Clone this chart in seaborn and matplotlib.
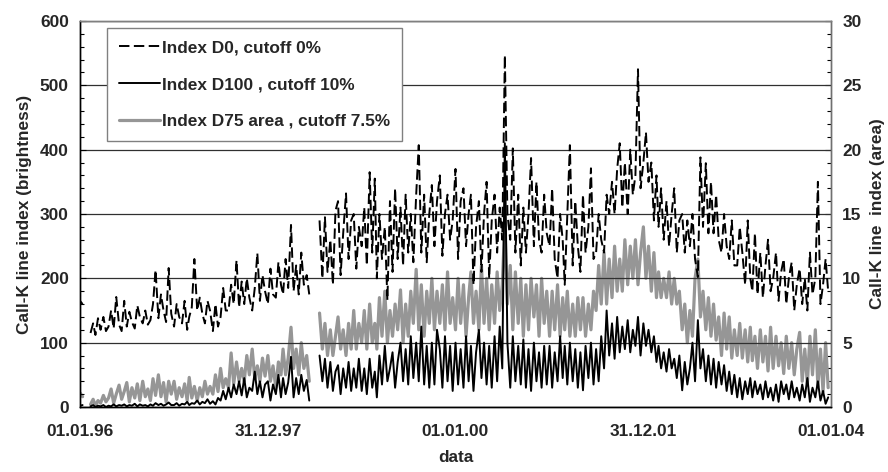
import numpy as np
import pandas as pd
import matplotlib
matplotlib.use("Agg")
import matplotlib.pyplot as plt
import matplotlib.dates as mdates
from matplotlib.ticker import FixedLocator, MultipleLocator
from matplotlib.lines import Line2D
import seaborn as sns

nan = np.nan

# samples on the 1st, 11th and 21st of each month, 1996-01 .. 2003-12
years = list(range(1996, 2004))
dates = pd.to_datetime([f"{y}-{m:02d}-{d:02d}" for y in years for m in range(1, 13) for d in (1, 11, 21)])

# Index D0, cutoff 0%  (brightness, left axis) - two rows per year
d0 = [
    165, 160, nan, nan, 115, 130, 112, 138, 120, 140, 118, 125, 150, 122, 171, 128, 118, 165,
    125, 148, 132, 122, 158, 140, 130, 150, 128, 135, 160, 213, 138, 175, 150, 132, 216, 145,
    125, 160, 140, 130, 165, 120, 140, 155, 230, 150, 170, 145, 130, 165, 150, 118, 160, 125,
    140, 185, 150, 150, 190, 160, 228, 155, 195, 160, 200, 170, 150, 185, 239, 165, 205, 180,
    160, 215, 175, 170, 225, 190, 175, 230, 185, 283, 180, 220, 175, 240, 190, 205, 175, nan,
    nan, nan, 290, 200, 295, 210, 260, 190, 305, 320, 205, 270, 332, 230, 290, 300, 215, 280,
    250, 310, 220, 365, 240, 355, 200, 300, 230, 280, 166, 320, 210, 340, 230, 310, 220, 330,
    240, 300, 225, 330, 407, 240, 330, 225, 300, 345, 250, 320, 360, 235, 300, 330, 260, 290,
    370, 230, 320, 340, 250, 300, 330, 190, 280, 320, 210, 300, 350, 200, 290, 330, 240, 310,
    260, 547, 300, 260, 402, 240, 330, 220, 310, 240, 300, 387, 250, 350, 260, 240, 330, 270,
    250, 340, 230, 200, 300, 260, 190, 300, 407, 220, 320, 250, 210, 330, 240, 280, 371, 230,
    240, 300, 260, 240, 330, 300, 350, 300, 370, 410, 310, 380, 300, 400, 330, 360, 525, 340,
    380, 427, 350, 380, 290, 360, 280, 340, 260, 320, 250, 300, 340, 240, 290, 300, 240, 290,
    250, 300, 230, 202, 388, 280, 379, 270, 350, 270, 330, 260, 240, 300, 250, 230, 290, 220,
    220, 280, 240, 190, 290, 200, 180, 270, 175, 240, 170, 220, 260, 180, 200, 240, 165, 210,
    230, 160, 200, 225, 150, 190, 215, 160, 200, 150, 240, 175, 200, 350, 160, 190, 230, 180,
]

# Index D100, cutoff 10%  (brightness, left axis)
d100 = [
    2, 3, nan, nan, 1, 3, 0, 2, 1, 3, 0, 2, 1, 4, 1, 3, 2, 4,
    1, 3, 2, 5, 1, 4, 2, 3, 1, 4, 2, 6, 3, 5, 2, 4, 7, 3,
    3, 6, 2, 5, 4, 8, 3, 6, 5, 10, 4, 8, 6, 12, 5, 9, 4, 14,
    10, 25, 12, 30, 15, 35, 20, 40, 18, 45, 15, 30, 25, 55, 20, 40, 15, 35,
    40, 10, 35, 20, 50, 15, 45, 20, 38, 78, 15, 45, 20, 50, 25, 42, 10, nan,
    nan, nan, 80, 40, 75, 30, 70, 25, 55, 65, 20, 60, 30, 70, 25, 60, 30, 75,
    25, 60, 20, 75, 30, 55, 15, 80, 35, 95, 40, 60, 85, 30, 70, 100, 40, 90,
    35, 110, 45, 100, 40, 125, 35, 95, 30, 100, 35, 120, 90, 30, 110, 40, 95, 25,
    100, 35, 90, 30, 110, 40, 95, 25, 85, 120, 45, 100, 35, 95, 30, 110, 40, 125,
    60, 410, 100, 30, 110, 40, 95, 35, 105, 30, 90, 25, 100, 40, 85, 30, 95, 35,
    95, 30, 85, 40, 110, 45, 95, 35, 100, 40, 90, 30, 85, 26, 95, 45, 100, 35,
    90, 40, 110, 60, 150, 80, 130, 75, 140, 85, 125, 90, 135, 85, 120, 95, 140, 80,
    130, 95, 120, 85, 110, 70, 95, 60, 85, 55, 90, 60, 75, 45, 80, 26, 70, 35,
    60, 100, 40, 135, 60, 90, 40, 80, 35, 75, 30, 70, 35, 65, 25, 55, 20, 50,
    15, 45, 12, 40, 20, 45, 15, 40, 20, 35, 12, 40, 15, 30, 10, 35, 8, 40,
    20, 35, 12, 40, 15, 30, 10, 35, 15, 45, 8, 30, 15, 40, 10, 25, 5, 15,
]

# Index D75 area, cutoff 7.5%  (area, right axis)
d75 = [
    1.1, 0.8, nan, nan, 0.2, 0.6, 0.1, 0.5, 0.3, 0.9, 0.4, 0.7, 1.4, 0.3, 1.0, 1.7, 0.6, 1.2,
    1.9, 0.4, 1.5, 0.7, 1.8, 0.5, 2.0, 0.8, 1.4, 0.5, 2.2, 0.9, 2.5, 0.8, 1.9, 0.4, 2.0, 1.0,
    2.0, 0.6, 1.5, 0.8, 1.8, 0.5, 2.3, 0.7, 1.6, 0.5, 1.5, 0.8, 2.0, 1.0, 1.6, 1.0, 2.5, 1.2,
    3.0, 1.5, 2.2, 1.5, 4.2, 1.8, 3.5, 2.0, 3.0, 2.0, 4.0, 2.5, 4.5, 2.2, 3.2, 2.0, 3.8, 2.4,
    4.0, 2.0, 3.2, 1.5, 3.5, 2.5, 4.5, 2.5, 3.8, 6.2, 3.0, 4.5, 2.5, 5.0, 3.0, 4.0, 2.0, nan,
    nan, nan, 7.3, 4.5, 6.5, 4.0, 6.0, 4.0, 5.5, 7.0, 4.5, 6.0, 4.0, 6.5, 4.5, 7.5, 4.5, 6.5,
    5.0, 7.5, 4.5, 8.0, 5.0, 6.5, 4.5, 8.5, 5.5, 9.0, 5.0, 7.5, 5.5, 8.0, 6.0, 9.1, 5.0, 8.0,
    5.5, 9.0, 6.5, 10.7, 6.0, 9.5, 5.5, 9.0, 6.5, 10.0, 6.0, 9.0, 6.5, 9.5, 6.0, 10.5, 6.5, 8.5,
    6.0, 10.0, 6.5, 9.5, 5.5, 8.5, 10.5, 6.5, 9.0, 6.0, 11.0, 6.5, 10.0, 6.0, 9.5, 6.5, 10.5, 7.5,
    9.5, 14.3, 8.0, 11.0, 6.0, 10.5, 6.5, 10.0, 5.5, 9.5, 6.0, 10.0, 7.0, 9.5, 5.5, 10.0, 6.5, 9.0,
    5.5, 9.0, 6.0, 9.5, 5.5, 8.5, 6.0, 9.0, 5.5, 8.0, 5.5, 8.5, 6.0, 8.5, 5.5, 8.0, 6.0, 9.0,
    7.5, 11.0, 8.0, 12.0, 8.0, 11.5, 8.5, 12.5, 9.0, 11.5, 9.0, 13.0, 9.5, 12.5, 10.0, 13.0, 9.5, 12.0,
    14.0, 10.0, 12.5, 9.0, 12.0, 8.5, 10.5, 8.5, 10.0, 8.5, 10.5, 8.0, 10.0, 8.0, 9.0, 6.0, 8.0, 5.0,
    7.5, 5.5, 10.0, 11.5, 7.0, 9.0, 6.0, 8.5, 5.5, 8.0, 5.2, 7.0, 4.0, 7.3, 4.5, 7.0, 3.8, 6.0,
    4.0, 6.5, 3.8, 6.0, 3.5, 6.2, 3.6, 5.5, 3.0, 6.0, 3.5, 5.5, 2.8, 6.2, 3.0, 5.5, 3.2, 5.0,
    2.6, 5.5, 3.0, 5.0, 2.5, 4.5, 5.8, 2.0, 4.5, 1.8, 5.5, 2.5, 6.0, 1.6, 4.5, 1.2, 5.0, 1.5,
]

labels = ["Index D0, cutoff 0%", "Index D100 , cutoff 10%", "Index D75 area , cutoff 7.5%"]
x_start, x_end = "1996-01-01", "2004-01-01"

sns.set_style("white")
plt.rcParams["font.family"] = ["Liberation Sans", "DejaVu Sans"]
plt.rcParams["font.weight"] = "bold"
plt.rcParams["lines.scale_dashes"] = False

FS = 12.4


def frame(vals):
    s = pd.Series(vals, index=dates, dtype=float)
    df = pd.DataFrame({"date": dates, "v": s.values, "seg": s.isna().cumsum().values})
    return df.dropna()


fig = plt.figure(figsize=(8.88, 4.72), dpi=100)
ax = fig.add_axes([80 / 888, 65 / 472, 751 / 888, 386 / 472])
ax2 = ax.twinx()
ax.set_zorder(ax2.get_zorder() + 1)
ax.patch.set_visible(False)

gray = "#969696"
sns.lineplot(data=frame(d75), x="date", y="v", units="seg", estimator=None,
             color=gray, lw=2.3, ax=ax2, legend=False)
sns.lineplot(data=frame(d100), x="date", y="v", units="seg", estimator=None,
             color="black", lw=1.4, ax=ax, legend=False)
n100 = len(ax.get_lines())
sns.lineplot(data=frame(d0), x="date", y="v", units="seg", estimator=None,
             color="black", lw=1.4, ax=ax, legend=False)
for ln in ax.get_lines()[n100:]:
    ln.set_dashes((7.5, 3.2))

x0 = mdates.date2num(pd.Timestamp(x_start))
x1 = mdates.date2num(pd.Timestamp(x_end))
ax.set_xlim(x0, x1)
ax.set_ylim(0, 600)
ax2.set_ylim(0, 30)

ax.xaxis.set_major_locator(FixedLocator(np.linspace(x0, x1, 5)))
ax.xaxis.set_minor_locator(FixedLocator(np.linspace(x0, x1, 49)))
ax.xaxis.set_major_formatter(mdates.DateFormatter("%d.%m.%y"))
ax.yaxis.set_major_locator(MultipleLocator(100))
ax.yaxis.set_minor_locator(MultipleLocator(20))
ax2.yaxis.set_major_locator(MultipleLocator(5))
ax2.yaxis.set_minor_locator(MultipleLocator(1))

ax.grid(axis="y", which="major", color="#303030", lw=0.9)

for a in (ax, ax2):
    a.tick_params(which="both", direction="in", labelsize=FS, color="black")
    a.tick_params(which="major", length=4, width=0.8)
    a.tick_params(which="minor", length=3, width=0.8)
ax.tick_params(axis="x", pad=12)
ax.tick_params(axis="y", pad=8, right=False)
ax2.tick_params(axis="y", pad=8)
ax.tick_params(axis="x", which="both", top=False)

for a in (ax, ax2):
    a.spines["top"].set_color("#808080")
    a.spines["left"].set_color("black")
    a.spines["bottom"].set_color("black")
    a.spines["right"].set_color("#707070")
    for sp in a.spines.values():
        sp.set_visible(True)
        sp.set_linewidth(1.0)

ax.set_xlabel("data", fontsize=FS, fontweight="bold", labelpad=8)
ax.set_ylabel("Call-K line index (brightness)", fontsize=FS, fontweight="bold", labelpad=6)
ax2.set_ylabel("Call-K line  index (area)", fontsize=FS, fontweight="bold", labelpad=6)
for lab in ax.get_xticklabels() + ax.get_yticklabels() + ax2.get_yticklabels():
    lab.set_fontweight("bold")

handles = [
    Line2D([], [], color="black", lw=1.4, dashes=(7.5, 3.2)),
    Line2D([], [], color="black", lw=1.4),
    Line2D([], [], color=gray, lw=2.3),
]
leg = ax.legend(handles, labels, loc="upper left", bbox_to_anchor=(27 / 751, 379 / 386),
                borderaxespad=0, fontsize=FS, frameon=True, fancybox=False,
                edgecolor="#808080", framealpha=1, handlelength=2.35, handletextpad=0.12,
                labelspacing=1.25, borderpad=0.72)
leg.get_frame().set_linewidth(1.0)
for t in leg.get_texts():
    t.set_fontweight("bold")

fig.savefig("out.png", dpi=100)
